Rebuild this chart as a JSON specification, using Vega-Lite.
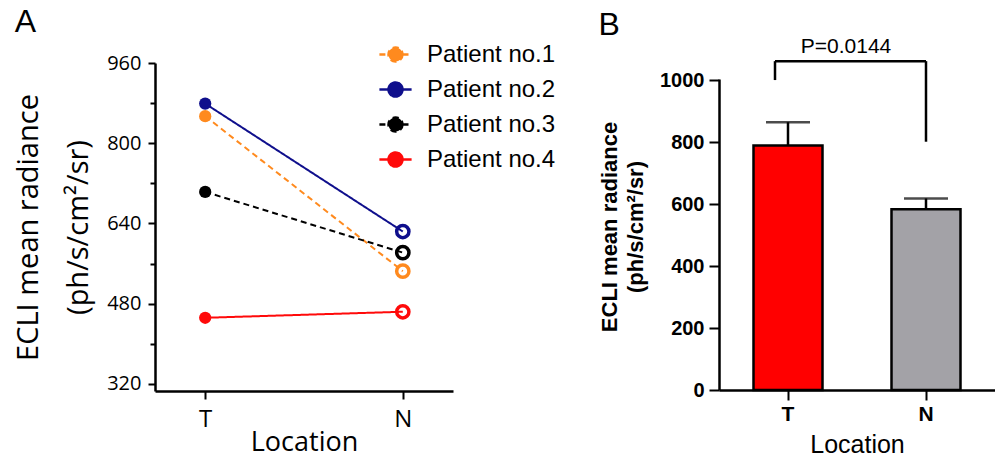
{
  "$schema": "https://vega.github.io/schema/vega-lite/v6.json",
  "padding": {"left": 14, "top": 6, "right": 0, "bottom": 0},
  "background": "white",
  "spacing": 145,
  "align": "none",
  "resolve": {"scale": {"color": "shared"}},
  "datasets": {
    "patients": [
      {"patient": "Patient no.1", "loc": "T", "value": 854},
      {"patient": "Patient no.1", "loc": "N", "value": 545},
      {"patient": "Patient no.2", "loc": "T", "value": 879},
      {"patient": "Patient no.2", "loc": "N", "value": 624},
      {"patient": "Patient no.3", "loc": "T", "value": 703},
      {"patient": "Patient no.3", "loc": "N", "value": 582},
      {"patient": "Patient no.4", "loc": "T", "value": 452},
      {"patient": "Patient no.4", "loc": "N", "value": 464}
    ],
    "bars": [
      {"loc": "T", "mean": 789, "upper": 864},
      {"loc": "N", "mean": 583, "upper": 618}
    ],
    "bracketTop": [{"from": "T", "to": "N", "y": 1061}],
    "legLeft": [{"loc": "T", "y": 1061, "y2": 1000}],
    "legRight": [{"loc": "N", "y": 1061, "y2": 801}],
    "pval": [{"loc": "T", "y": 1061, "label": "P=0.0144"}]
  },
  "hconcat": [
    {
      "width": 298,
      "height": 328,
      "title": {"text": "A", "anchor": "start", "font": "Liberation Sans", "fontSize": 32, "fontWeight": "normal", "offset": 14, "color": "black"},
      "data": {"name": "patients"},
      "encoding": {
        "x": {
          "field": "loc", "type": "nominal",
          "scale": {"type": "point", "domain": ["T", "N"], "padding": 0.254},
          "axis": {
            "title": "Location", "labelAngle": 0,
            "labelFont": "Open Sans", "labelFontSize": 24, "labelColor": "black", "labelPadding": 8,
            "tickSize": 8, "tickWidth": 2, "tickColor": "black",
            "domainWidth": 2.5, "domainColor": "black",
            "titleFont": "Open Sans", "titleFontSize": 27, "titleFontWeight": "normal", "titleColor": "black", "titlePadding": -2
          }
        },
        "y": {
          "field": "value", "type": "quantitative",
          "scale": {"domain": [306, 960], "nice": false, "zero": false},
          "axis": {
            "title": ["ECLI mean radiance", "(ph/s/cm²/sr)"],
            "values": [320, 400, 480, 560, 640, 720, 800, 880, 960],
            "labelExpr": "datum.value % 160 === 0 ? datum.label : ''",
            "grid": false,
            "labelFont": "Open Sans", "labelFontSize": 20, "labelColor": "black", "labelPadding": 7,
            "tickSize": {"condition": {"test": "datum.value % 160 === 0", "value": 7}, "value": 5},
            "tickWidth": 2, "tickColor": "black",
            "domainWidth": 2.5, "domainColor": "black",
            "titleFont": "Open Sans", "titleFontSize": 29, "titleFontWeight": "normal", "titleColor": "black",
            "titleLineHeight": 50, "titlePadding": 13
          }
        },
        "color": {
          "field": "patient", "type": "nominal",
          "scale": {
            "domain": ["Patient no.1", "Patient no.2", "Patient no.3", "Patient no.4"],
            "range": ["#FF8A1E", "#0F0F8C", "#000000", "#FF0A0A"]
          },
          "legend": {
            "title": null, "orient": "none", "legendX": 225, "legendY": -24,
            "padding": 0,
            "symbolType": "M-1.15,0L-0.5,0M0.5,0L1.15,0M0.5,0A0.5,0.5,0,1,1,-0.5,0A0.5,0.5,0,1,1,0.5,0Z",
            "symbolSize": 784, "symbolStrokeWidth": 2.5, "symbolOpacity": 1,
            "labelFont": "Liberation Sans", "labelFontSize": 24, "labelColor": "black",
            "labelOffset": 16, "rowPadding": 7,
            "encode": {"symbols": {"update": {
              "fill": {"scale": "color", "field": "value"},
              "stroke": {"scale": "color", "field": "value"}
            }}}
          }
        }
      },
      "layer": [
        {
          "mark": {"type": "line", "strokeWidth": 2},
          "encoding": {
            "detail": {"field": "patient"},
            "strokeDash": {
              "field": "patient", "type": "nominal",
              "scale": {
                "domain": ["Patient no.1", "Patient no.2", "Patient no.3", "Patient no.4"],
                "range": [[6, 4], [1, 0], [6, 4], [1, 0]]
              },
              "legend": {"title": null}
            }
          }
        },
        {
          "transform": [{"filter": "datum.loc === 'T'"}],
          "mark": {"type": "point", "filled": true, "size": 150, "opacity": 1}
        },
        {
          "transform": [{"filter": "datum.loc === 'N'"}],
          "mark": {"type": "point", "filled": false, "size": 150, "strokeWidth": 3.5, "opacity": 1}
        }
      ]
    },
    {
      "width": 276,
      "height": 327,
      "title": {"text": "B", "anchor": "start", "font": "Liberation Sans", "fontSize": 32, "fontWeight": "normal", "offset": -6, "color": "black"},
      "layer": [
        {
          "data": {"name": "bars"},
          "mark": {"type": "bar", "stroke": "black", "strokeWidth": 2.5},
          "encoding": {
            "x": {
              "field": "loc", "type": "nominal",
              "scale": {"type": "band", "domain": ["T", "N"], "paddingInner": 0.5, "paddingOuter": 0.25},
              "axis": {
                "title": "Location", "labelAngle": 0,
                "labelFont": "Liberation Sans", "labelFontSize": 21, "labelFontWeight": "bold", "labelColor": "black", "labelPadding": 3,
                "tickSize": 10, "tickWidth": 2, "tickColor": "black",
                "domainWidth": 2.5, "domainColor": "black",
                "titleFont": "Liberation Sans", "titleFontSize": 25, "titleFontWeight": "normal", "titleColor": "black", "titlePadding": 8
              }
            },
            "y": {
              "field": "mean", "type": "quantitative",
              "scale": {"domain": [0, 1055], "nice": false},
              "axis": {
                "title": ["ECLI  mean radiance", "(ph/s/cm²/sr)"],
                "values": [0, 100, 200, 300, 400, 500, 600, 700, 800, 900, 1000],
                "format": "d",
                "labelExpr": "datum.value % 200 === 0 ? datum.label : ''",
                "grid": false,
                "domainDash": [311, 40],
                "domainWidth": 2.5, "domainColor": "black",
                "labelFont": "Liberation Sans", "labelFontSize": 20, "labelFontWeight": "bold", "labelColor": "black", "labelPadding": 5,
                "tickSize": {"condition": {"test": "datum.value % 200 === 0", "value": 10}, "value": 5},
                "tickWidth": 2, "tickColor": "black",
                "titleFont": "Liberation Sans", "titleFontSize": 22, "titleFontWeight": "bold", "titleColor": "black",
                "titleLineHeight": 26, "titlePadding": 12
              }
            },
            "fill": {
              "field": "loc", "type": "nominal",
              "scale": {"domain": ["T", "N"], "range": ["#FF0000", "#A3A2A7"]},
              "legend": null
            }
          }
        },
        {
          "data": {"name": "bars"},
          "mark": {"type": "rule", "strokeWidth": 2.5, "color": "black"},
          "encoding": {
            "x": {"field": "loc", "type": "nominal"},
            "y": {"field": "mean", "type": "quantitative"},
            "y2": {"field": "upper"}
          }
        },
        {
          "data": {"name": "bars"},
          "mark": {"type": "tick", "size": 44, "thickness": 2.5, "color": "black", "orient": "horizontal"},
          "encoding": {
            "x": {"field": "loc", "type": "nominal"},
            "y": {"field": "upper", "type": "quantitative"}
          }
        },
        {
          "data": {"name": "bracketTop"},
          "mark": {"type": "rule", "strokeWidth": 2.5, "color": "black", "xOffset": -13},
          "encoding": {
            "x": {"field": "from", "type": "nominal"},
            "x2": {"field": "to"},
            "y": {"field": "y", "type": "quantitative"}
          }
        },
        {
          "data": {"name": "legLeft"},
          "mark": {"type": "rule", "strokeWidth": 2.5, "color": "black", "xOffset": -13},
          "encoding": {
            "x": {"field": "loc", "type": "nominal"},
            "y": {"field": "y", "type": "quantitative"},
            "y2": {"field": "y2"}
          }
        },
        {
          "data": {"name": "legRight"},
          "mark": {"type": "rule", "strokeWidth": 2.5, "color": "black"},
          "encoding": {
            "x": {"field": "loc", "type": "nominal"},
            "y": {"field": "y", "type": "quantitative"},
            "y2": {"field": "y2"}
          }
        },
        {
          "data": {"name": "pval"},
          "mark": {"type": "text", "font": "Liberation Sans", "fontSize": 21, "color": "black", "dx": 58, "dy": -8, "baseline": "alphabetic", "align": "center"},
          "encoding": {
            "x": {"field": "loc", "type": "nominal"},
            "y": {"field": "y", "type": "quantitative"},
            "text": {"field": "label"}
          }
        }
      ]
    }
  ],
  "config": {
    "view": {"stroke": null},
    "axis": {"grid": false}
  }
}
